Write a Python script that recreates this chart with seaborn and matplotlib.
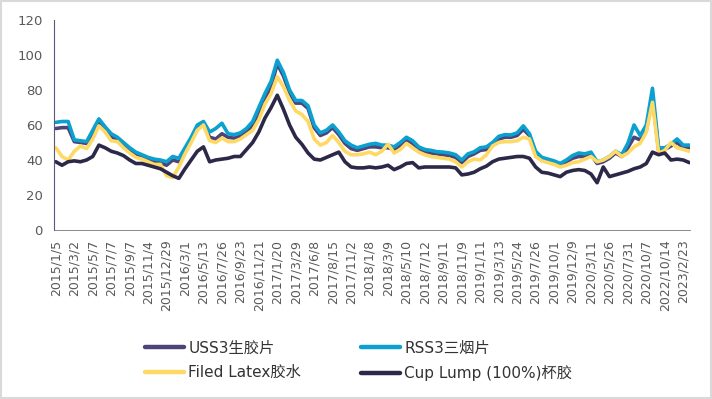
import numpy as np
import pandas as pd
import matplotlib
matplotlib.use("Agg")
import matplotlib.pyplot as plt
import seaborn as sns
from matplotlib.ticker import MultipleLocator
from matplotlib.lines import Line2D
from matplotlib.patches import Rectangle

# tick labels (every 3rd sample)
tick_labels = [
    "2015/1/5", "2015/3/2", "2015/5/7", "2015/7/7", "2015/9/7", "2015/11/4",
    "2015/12/29", "2016/3/1", "2016/5/13", "2016/7/26", "2016/9/23", "2016/11/21",
    "2017/1/20", "2017/3/29", "2017/6/8", "2017/8/15", "2017/11/2", "2018/1/8",
    "2018/3/9", "2018/5/10", "2018/7/12", "2018/9/11", "2018/11/9", "2019/1/11",
    "2019/3/13", "2019/5/24", "2019/7/26", "2019/10/1", "2019/12/9", "2020/3/11",
    "2020/5/26", "2020/7/31", "2020/10/7", "2022/10/14", "2023/2/23",
]

series_names = ["USS3生胶片", "RSS3三烟片", "Filed Latex胶水", "Cup Lump (100%)杯胶"]

uss3 = [58, 58.5, 58.5, 50.5, 50, 49.5, 55.5, 61.5, 57.5, 53.5,
        51.5, 48.5, 45.5, 43, 41.5, 40, 39, 38.5, 37, 40,
        39, 45, 51, 58, 60, 53, 52, 55, 53, 52.5,
        53.5, 56, 60, 67, 75, 82, 95, 88, 78.5, 72.5,
        72.5, 69.5, 58.5, 54, 55.5, 58.5, 54.5, 49.5, 46.5, 45.5,
        46.5, 47.5, 47.5, 47, 47, 46, 48.5, 51.5, 49.5, 46,
        44.5, 44, 43.5, 43, 42.5, 41.5, 38.5, 42, 43.5, 45.5,
        46, 48.5, 52, 53, 53, 54, 57.5, 54, 43.5, 40.5,
        39.5, 38.5, 37, 39, 41, 42, 42, 43, 38, 39,
        41, 44, 42, 47, 53, 51.5, 57, 76, 45.5, 46,
        48, 50, 47, 47]

rss3 = [61.5, 62, 62, 51.5, 51, 50.5, 57, 63.5, 59, 55,
        53, 50, 47, 44.5, 43, 41.5, 40.5, 40, 39, 42,
        41, 47, 53, 60, 62, 56, 58, 61, 55, 54.5,
        55.5, 58, 62, 70, 78, 85, 97, 90, 80, 74,
        74, 71, 60, 55.5, 57, 60, 56, 51, 48.5, 47,
        48, 49, 49.5, 48.5, 48.5, 47.5, 50, 53, 51, 47.5,
        46, 45.5, 44.7, 44.5, 44, 43, 40, 43.5, 44.7, 47,
        47.5, 50, 53.5, 54.5, 54.3, 55.5, 59.5, 55, 45, 41.5,
        40.5, 39.5, 38, 40, 42.5, 44, 43.5, 44.5, 39, 40,
        42, 45, 43, 49.5, 60, 54, 60, 81, 47, 47,
        49, 52, 48.5, 48.5]

field_latex = [47, 42, 40, 45, 48, 46.5, 52, 59.5, 56, 51,
               50.5, 47, 44, 41.5, 40.5, 39, 37.5, 37.5, 31, 30,
               36, 43.5, 50, 57, 60, 51, 50, 52.5, 50.5, 50.5,
               52, 54.5, 57, 63, 72, 78, 87.5, 82, 74, 68,
               66, 62, 52, 48.5, 50, 54, 50, 45, 43, 43,
               43.5, 44.5, 43, 45, 49, 44, 46, 49.5, 47, 44.5,
               43, 42, 41.5, 41, 40.5, 39, 36, 39, 40.5, 40,
               43, 48, 50, 50.5, 50.5, 51, 53, 52, 42, 39.5,
               38.5, 37.5, 36, 37, 38.5, 39, 40.5, 42, 39, 40,
               42, 45, 42, 44, 47.5, 49.5, 56, 73, 44, 45.5,
               50, 47, 46, 45]

cup_lump = [39, 37, 39, 39.5, 39, 40, 42, 48.5, 47, 45,
            44, 42.5, 40, 38, 38, 37, 36, 35, 33, 31,
            29.5, 35, 40, 45, 47.5, 39, 40, 40.5, 41, 42,
            42, 46, 50, 56, 64, 70, 77, 69, 60, 53,
            49, 44, 40.5, 40, 41.5, 43, 44.5, 39, 36, 35.5,
            35.5, 36, 35.5, 36, 37, 34.5, 36, 38, 38.5, 35.5,
            36, 36, 36, 36, 36, 35.5, 31.5, 32, 33, 35,
            36.5, 39, 40.5, 41, 41.5, 42, 42, 41, 36, 33,
            32.5, 31.5, 30.5, 33, 34, 34.5, 34, 32, 27, 36,
            30.5, 31.5, 32.5, 33.5, 35, 36, 38, 44.5, 43, 44,
            40, 40.5, 40, 38.5]

colors = ["#4d4478", "#0aa0cf", "#ffd966", "#2c2848"]

idx = np.arange(len(rss3))
df = pd.DataFrame({
    "idx": np.tile(idx, 4),
    "value": uss3 + rss3 + field_latex + cup_lump,
    "series": np.repeat(series_names, len(idx)),
})

sns.set_style("white")
plt.rcParams["font.family"] = ["DejaVu Sans", "Noto Sans CJK SC"]

fig = plt.figure(figsize=(7.12, 3.99), dpi=100)
ax = fig.add_axes([54 / 712, 169 / 399, 636 / 712, 210 / 399])

sns.lineplot(data=df, x="idx", y="value", hue="series", hue_order=series_names,
             palette=colors, linewidth=2.6, legend=False, ax=ax)

axis_col = "#5b5680"
ax.set_ylim(0, 120)
ax.set_xlim(-0.3, idx[-1] + 0.1)
ax.set_yticks(range(0, 121, 20))
ax.set_xticks(np.arange(0, 3 * len(tick_labels), 3))
ax.set_xticklabels(tick_labels, rotation=90, va="top", ha="center")
ax.xaxis.set_minor_locator(MultipleLocator(0.5))
ax.tick_params(axis="y", direction="out", length=5, width=1, color=axis_col,
               labelsize=9.5, labelcolor="#595959", pad=3)
ax.tick_params(axis="x", which="both", direction="out", length=4, width=0.6,
               color="#555555", labelsize=9, labelcolor="#595959", pad=3)
ax.set_xlabel("")
ax.set_ylabel("")

for side in ["top", "right"]:
    ax.spines[side].set_visible(False)
ax.spines["left"].set_color(axis_col)
ax.spines["bottom"].set_color("#777777")
ax.spines["bottom"].set_linewidth(0.6)

handles = [Line2D([], [], color=c, linewidth=3.2, solid_capstyle="round") for c in colors]
order = [0, 2, 1, 3]
fig.legend([handles[i] for i in order], [series_names[i] for i in order],
           ncol=2, frameon=False, loc="upper left", bbox_to_anchor=(131 / 712, 1 - 327 / 399),
           fontsize=11, handlelength=2.6, handletextpad=0.25, columnspacing=3.9,
           labelspacing=0.6, labelcolor="#333333")

fig.patches.append(Rectangle((0.001, 0.002), 0.997, 0.995, transform=fig.transFigure,
                             fill=False, edgecolor="#d9d9d9", linewidth=1.5))

fig.savefig("out.png", dpi=100)
